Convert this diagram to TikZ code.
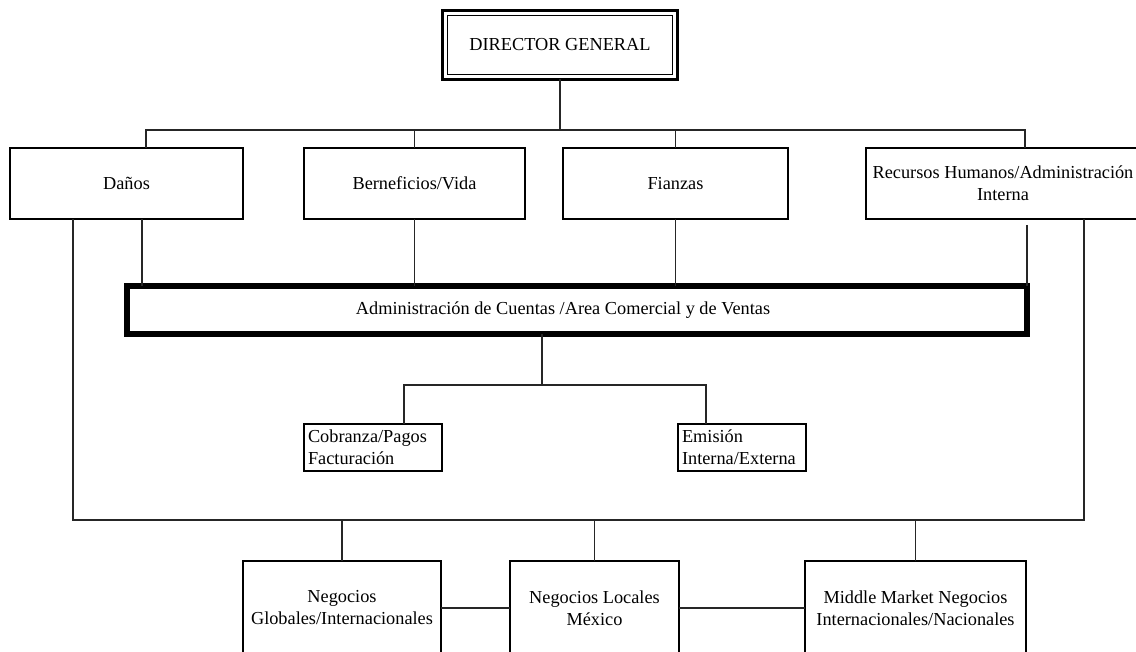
\documentclass[tikz,border=0pt]{standalone}
\usepackage{fontspec}
\setmainfont{Liberation Serif}
\begin{document}
\begin{tikzpicture}[x=1pt,y=-1pt,
  every node/.style={font=\fontsize{18.3}{22}\selectfont, inner sep=0pt, outer sep=0pt},
  box/.style={draw, line width=2.5pt, align=center},
  heavybox/.style={draw, line width=6pt, align=center},
  smallbox/.style={draw, line width=2.5pt, align=left, inner xsep=4pt, minimum height=47},
  conn/.style={line width=1.3pt, draw=black!85}]
\useasboundingbox (0,0) rectangle (1136,652);

% top of the chart
\node[draw, line width=3pt, minimum width=235, minimum height=69] (dg) at (560,45) {DIRECTOR GENERAL};
\draw[line width=1.5pt] ([xshift=5pt,yshift=5pt]dg.south west) rectangle ([xshift=-5pt,yshift=-5pt]dg.north east);

% first level
\node[box, minimum width=233, minimum height=71] (danos) at (126.5,183.5) {Daños};
\node[box, minimum width=221, minimum height=71] (benef) at (414.5,183.5) {Berneficios/Vida};
\node[box, minimum width=225, minimum height=71] (fianzas) at (675.5,183.5) {Fianzas};
\node[box, minimum width=274, minimum height=71] (recursos) at (1003,183.5) {Recursos Humanos/Administración\\Interna};

% account administration
\node[heavybox, minimum width=900, minimum height=48] (adm) at (577,310) {\hspace*{-28pt}Administración de Cuentas /Area Comercial y de Ventas};

% second level under administration
\node[smallbox, text width=130] (cob) at (373,447.5) {Cobranza/Pagos\\Facturación};
\node[smallbox, text width=120] (emi) at (742,447.5) {Emisión\\Interna/Externa};

% business lines
\node[box, minimum width=198, minimum height=94] (glob) at (342,608) {Negocios\\Globales/Internacionales};
\node[box, minimum width=169, minimum height=94] (loc) at (594.5,608) {Negocios Locales\\México};
\node[box, minimum width=221, minimum height=94] (mid) at (915.5,608) {Middle Market Negocios\\Internacionales/Nacionales};

% helper coordinates for the buses
\coordinate (busL) at (146,130);
\coordinate (busR) at (1025,130);
\coordinate (xa) at (142,0);
\coordinate (xl) at (73,0);
\coordinate (xr) at (1084,0);
\coordinate (busB) at (0,520);
\coordinate (busC) at (0,385);
\coordinate (xc1) at (404,0);
\coordinate (xc2) at (706,0);
\coordinate (xm) at (542,0);

% top bus
\draw[conn] (dg.south) -- (dg.south |- busL);
\draw[conn] (danos.north -| busL) -- (busL) -- (busR) -- (recursos.north -| busR);
\draw[conn] (benef.north) -- (benef.north |- busL);
\draw[conn] (fianzas.north) -- (fianzas.north |- busL);

% links into the administration box
\draw[conn] (danos.south -| xa) -- (adm.north -| xa);
\draw[conn] (benef.south) -- (adm.north -| benef.south);
\draw[conn] (fianzas.south) -- (adm.north -| fianzas.south);
\draw[conn] ([yshift=-6pt]recursos.south -| adm.north east) -- (adm.north east);

% administration to its two units
\draw[conn] (adm.south -| xm) -- (xm |- busC);
\draw[conn] (cob.north -| xc1) -- (xc1 |- busC) -- (xc2 |- busC) -- (emi.north -| xc2);

% lower bus
\draw[conn] (danos.south -| xl) -- (xl |- busB) -- (xr |- busB) -- (recursos.south -| xr);
\draw[conn] (glob.north) -- (glob.north |- busB);
\draw[conn] (loc.north) -- (loc.north |- busB);
\draw[conn] (mid.north) -- (mid.north |- busB);

% side links between business lines
\draw[conn] (glob.east) -- (loc.west);
\draw[conn] (loc.east) -- (mid.west);
\end{tikzpicture}
\end{document}
